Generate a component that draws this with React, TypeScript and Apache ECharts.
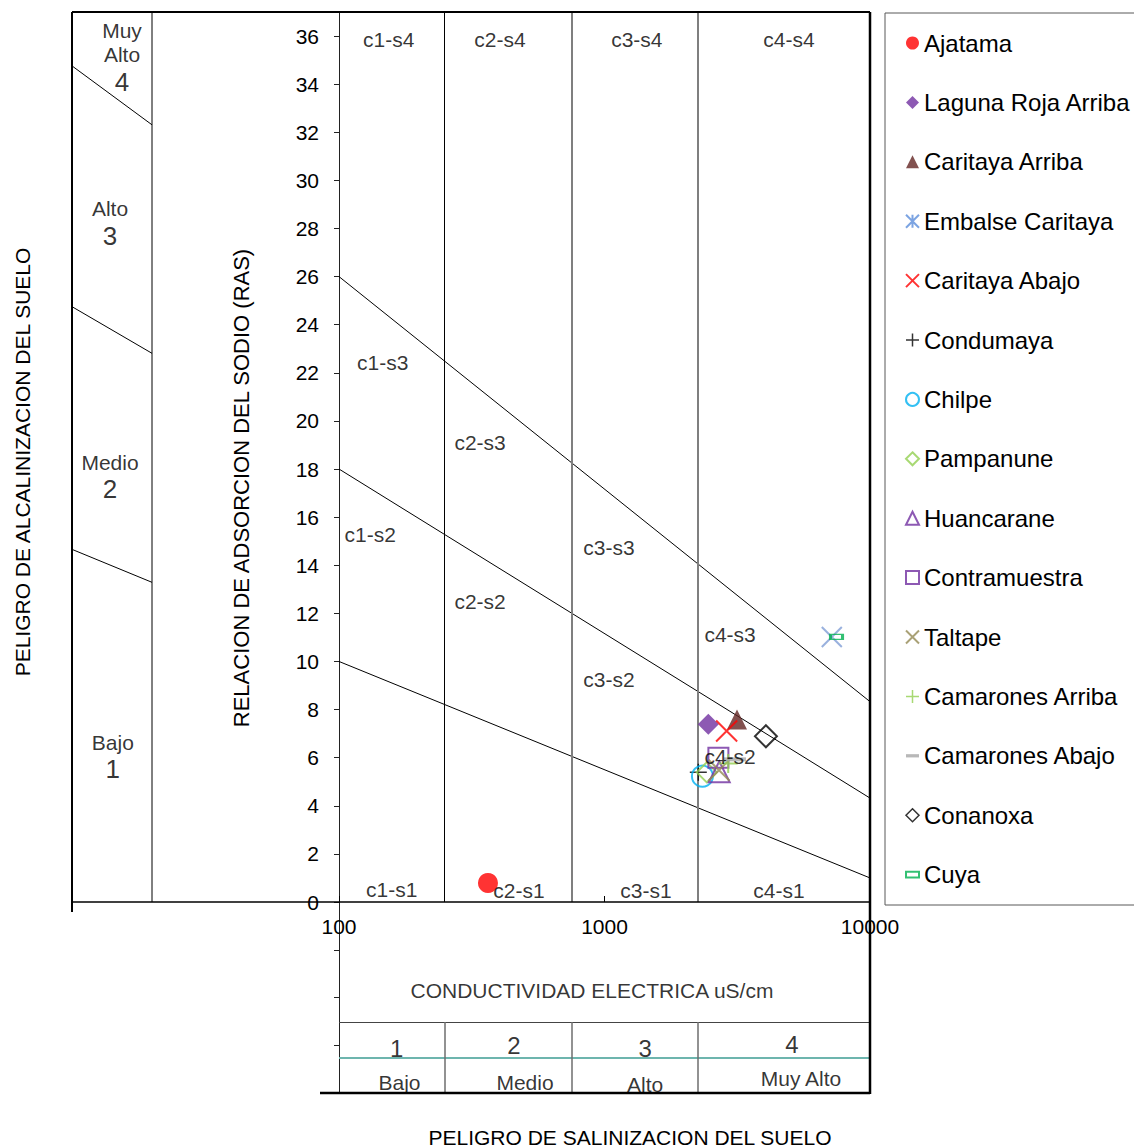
import React, { useEffect, useRef } from 'react';
import * as echarts from 'echarts';

const FONT = '"Liberation Sans", Arial, Helvetica, sans-serif';

// ---- data ----
const estaciones = [
  'Ajatama', 'Laguna Roja Arriba', 'Caritaya Arriba', 'Embalse Caritaya', 'Caritaya Abajo',
  'Condumaya', 'Chilpe', 'Pampanune', 'Huancarane', 'Contramuestra', 'Taltape',
  'Camarones Arriba', 'Camarones Abajo', 'Conanoxa', 'Cuya',
];
const conductividad = [364, 2460, 3155, 7180, 2884, 2256, 2338, 2427, 2705, 2685, 2700, 2924, 3101, 4055, 7480];
const ras = [0.79, 7.39, 7.59, 11.02, 7.11, 5.39, 5.23, 5.39, 5.41, 6.0, 5.48, 5.76, 5.93, 6.89, 11.02];

const limitesCE = [250, 750, 2250];
const limiteS1S2 = [[100, 10], [10000, 1]];
const limiteS2S3 = [[100, 18], [10000, 4.32]];
const limiteS3S4 = [[100, 26], [10000, 8.33]];

const zonaNombres = ['c1-s1', 'c2-s1', 'c3-s1', 'c4-s1', 'c1-s2', 'c2-s2', 'c3-s2', 'c4-s2',
  'c1-s3', 'c2-s3', 'c3-s3', 'c4-s3', 'c1-s4', 'c2-s4', 'c3-s4', 'c4-s4'];
const zonaCE = [158, 476, 1432, 4540, 131, 340, 1040, 2972, 146, 340, 1040, 2972, 154, 404, 1324, 4955];
const zonaRAS = [0.54, 0.46, 0.46, 0.46, 15.28, 12.5, 9.26, 6.06, 22.43, 19.1, 14.74, 11.13, 35.84, 35.84, 35.84, 35.84];

const alcalNiveles = ['Muy\nAlto', 'Alto', 'Medio', 'Bajo'];
const alcalNumeros = ['4', '3', '2', '1'];
const alcalPosX = [0.625, 0.475, 0.475, 0.51];
const alcalPosRAS = [35.1, 28.2, 17.65, 6.02];
const alcalLimites = [[[0, 34.76], [1, 32.31]], [[0, 24.75], [1, 22.81]], [[0, 14.66], [1, 13.29]]];

const salTextos = ['CONDUCTIVIDAD ELECTRICA uS/cm', '1', '2', '3', '4', 'Bajo', 'Medio', 'Alto', 'Muy Alto'];
const salCE = [897, 165, 456, 1422, 5080, 169, 502, 1422, 5496];
const salFila = [1.843, 3.058, 2.995, 3.058, 2.974, 3.79, 3.77, 3.83, 3.686];
const salFilaSeparador = 2.513;
const salFilaTeal = 3.267;

const yTicks = { min: 0, max: 37, interval: 2 };

// ---- marker styles ----
const P_X = 'path://M0,0L10,10M10,0L0,10';
const P_PLUS = 'path://M5,0L5,10M0,5L10,5';
const P_AST = 'path://M0,0L10,10M10,0L0,10M5,0L5,10';
const P_DASH = 'path://M0,4L10,4L10,6.5L0,6.5Z';
const P_SMALLRECT = 'path://M0,0L10,0L10,4.5L0,4.5Z';

const T = 'rgba(0,0,0,0)';
const estilos: any[] = [
  { symbol: 'circle', size: 20, item: { color: '#FF0000' }, icon: 'circle', leg: { color: '#FF0000' } },
  { symbol: 'diamond', size: 21, item: { color: '#7030A0' }, icon: 'diamond', leg: { color: '#7030A0' } },
  { symbol: 'triangle', size: 20, item: { color: '#632523' }, icon: 'triangle', leg: { color: '#632523' } },
  { symbol: P_X, size: 20, item: { color: T, borderColor: '#7F9ED6', borderWidth: 2 }, icon: P_AST, leg: { color: T, borderColor: '#5B8DDB', borderWidth: 2 } },
  { symbol: P_X, size: 21, item: { color: T, borderColor: '#FF0000', borderWidth: 2 }, icon: P_X, leg: { color: T, borderColor: '#FF0000', borderWidth: 2 } },
  { symbol: P_PLUS, size: 17, item: { color: T, borderColor: '#000000', borderWidth: 1.5 }, icon: P_PLUS, leg: { color: T, borderColor: '#000000', borderWidth: 1.5 } },
  { symbol: 'circle', size: 21, item: { color: T, borderColor: '#00B0F0', borderWidth: 2 }, icon: 'circle', leg: { color: T, borderColor: '#00B0F0', borderWidth: 2 } },
  { symbol: 'diamond', size: 20, item: { color: T, borderColor: '#92D050', borderWidth: 2 }, icon: 'diamond', leg: { color: T, borderColor: '#92D050', borderWidth: 2 } },
  { symbol: 'triangle', size: 21, item: { color: T, borderColor: '#7030A0', borderWidth: 2 }, icon: 'triangle', leg: { color: T, borderColor: '#7030A0', borderWidth: 2 } },
  { symbol: 'rect', size: 20, item: { color: T, borderColor: '#7030A0', borderWidth: 2 }, icon: 'rect', leg: { color: T, borderColor: '#7030A0', borderWidth: 2 } },
  { symbol: P_X, size: 21, item: { color: T, borderColor: '#948A54', borderWidth: 2 }, icon: P_X, leg: { color: T, borderColor: '#948A54', borderWidth: 2 } },
  { symbol: P_PLUS, size: 19, item: { color: T, borderColor: '#92D050', borderWidth: 2 }, icon: P_PLUS, leg: { color: T, borderColor: '#92D050', borderWidth: 1.5 } },
  { symbol: 'rect', size: [22, 4], item: { color: '#A6A6A6' }, icon: P_DASH, leg: { color: '#A6A6A6' } },
  { symbol: 'diamond', size: 22, item: { color: T, borderColor: '#000000', borderWidth: 2 }, icon: 'diamond', leg: { color: T, borderColor: '#000000', borderWidth: 1.5 } },
  { symbol: 'rect', size: [12, 5], item: { color: T, borderColor: '#00B050', borderWidth: 2 }, icon: P_SMALLRECT, leg: { color: T, borderColor: '#00B050', borderWidth: 2 } },
];

function buildOption(): any {
  const stationSeries = estaciones.map((name, i) => ({
    type: 'scatter',
    name,
    xAxisIndex: 0,
    yAxisIndex: 0,
    data: [[conductividad[i], ras[i]]],
    symbol: estilos[i].symbol,
    symbolSize: estilos[i].size,
    itemStyle: estilos[i].item,
    z: 5,
    silent: true,
  }));

  const limiteLine = (data: number[][], name: string, extra: any = {}) => ({
    type: 'line',
    name,
    xAxisIndex: 0,
    yAxisIndex: 0,
    data,
    symbol: 'none',
    silent: true,
    lineStyle: { color: '#000', width: 1 },
    z: 2,
    ...extra,
  });

  const line = (x1: number, y1: number, x2: number, y2: number, w: number, c = '#000') => ({
    type: 'line', shape: { x1, y1, x2, y2 }, style: { stroke: c, lineWidth: w }, silent: true, z: 10,
  });

  return {
    animation: false,
    backgroundColor: '#fff',
    textStyle: { fontFamily: FONT },
    grid: [
      { left: 339, top: 12, width: 531, height: 890, containLabel: false },
      { left: 72, top: 12, width: 80, height: 890, containLabel: false },
      { left: 339, top: 902, width: 531, height: 191, containLabel: false },
    ],
    xAxis: [
      {
        type: 'log', logBase: 10, min: 100, max: 10000, gridIndex: 0,
        axisLine: { show: false },
        axisTick: { show: true, inside: true, length: 6, lineStyle: { color: '#000' } },
        axisLabel: {
          fontSize: 21, fontFamily: FONT, color: '#000', margin: 14,
          formatter: (v: number) => String(Math.round(v)),
        },
        splitLine: { show: false },
        minorTick: { show: false },
      },
      { type: 'value', min: 0, max: 1, gridIndex: 1, show: false },
      { type: 'log', logBase: 10, min: 100, max: 10000, gridIndex: 2, show: false },
    ],
    yAxis: [
      {
        type: 'value', gridIndex: 0, min: yTicks.min, max: yTicks.max, interval: yTicks.interval,
        axisLine: { show: true, lineStyle: { color: '#222', width: 1 } },
        axisTick: { show: true, inside: false, length: 5, lineStyle: { color: '#222' } },
        axisLabel: {
          fontSize: 21, fontFamily: FONT, color: '#000', margin: 20,
          formatter: (v: number) => (Math.round(v) % 2 === 0 ? String(Math.round(v)) : ''),
        },
        splitLine: { show: false },
      },
      { type: 'value', gridIndex: 1, min: yTicks.min, max: yTicks.max, show: false },
      {
        type: 'value', gridIndex: 2, min: 0, max: 4, interval: 1, inverse: true,
        axisLine: { show: true, lineStyle: { color: '#222', width: 1 } },
        axisTick: { show: true, inside: false, length: 5, lineStyle: { color: '#222' } },
        axisLabel: { show: false },
        splitLine: { show: false },
      },
    ],
    legend: {
      orient: 'vertical',
      left: 905,
      top: 31,
      padding: 0,
      itemGap: 35.4,
      itemWidth: 13,
      itemHeight: 13,
      selectedMode: false,
      textStyle: { fontSize: 24, fontFamily: FONT, color: '#000' },
      data: estaciones.map((name, i) => ({ name, icon: estilos[i].icon, itemStyle: estilos[i].leg })),
    },
    series: [
      limiteLine(limiteS1S2, 'S1-S2', {
        markLine: {
          silent: true,
          symbol: 'none',
          label: { show: false },
          data: limitesCE.map((v, i) => ({
            xAxis: v,
            lineStyle: { color: i === 0 ? '#000' : '#7f7f7f', width: i === 0 ? 1 : 2, type: 'solid' },
          })),
        },
      }),
      limiteLine(limiteS2S3, 'S2-S3'),
      limiteLine(limiteS3S4, 'S3-S4'),
      ...stationSeries,
      {
        type: 'scatter',
        name: 'zonas',
        xAxisIndex: 0,
        yAxisIndex: 0,
        symbolSize: 0,
        silent: true,
        z: 6,
        data: zonaNombres.map((n, i) => ({ name: n, value: [zonaCE[i], zonaRAS[i]] })),
        label: {
          show: true, position: 'inside', formatter: (p: any) => p.name,
          fontSize: 21, fontFamily: FONT, color: '#000',
        },
      },
      // left panel: alkalinization hazard
      ...alcalLimites.map((d, i) => ({
        type: 'line', name: 'alc' + i, xAxisIndex: 1, yAxisIndex: 1, data: d, symbol: 'none', silent: true,
        lineStyle: { color: '#000', width: 1 },
      })),
      {
        type: 'scatter', name: 'alcal', xAxisIndex: 1, yAxisIndex: 1, symbolSize: 0, silent: true,
        data: alcalNiveles.map((n, i) => ({ name: n, value: [alcalPosX[i], alcalPosRAS[i]] })),
        label: {
          show: true, position: 'inside', align: 'center',
          formatter: (p: any) => p.name + '\n{n|' + alcalNumeros[p.dataIndex] + '}',
          fontSize: 21, lineHeight: 24, fontFamily: FONT, color: '#000',
          rich: { n: { fontSize: 26, lineHeight: 30, fontFamily: FONT, color: '#000' } },
        },
      },
      // bottom panel: salinization hazard
      {
        type: 'scatter', name: 'sal', xAxisIndex: 2, yAxisIndex: 2, symbolSize: 0, silent: true,
        data: salTextos.map((t, i) => ({
          name: t, value: [salCE[i], salFila[i]],
          label: { fontSize: /^[0-9]$/.test(t) ? 24 : 21 },
        })),
        label: { show: true, position: 'inside', formatter: (p: any) => p.name, fontFamily: FONT, color: '#000', fontSize: 21 },
        markLine: {
          silent: true, symbol: 'none', label: { show: false },
          data: [
            { yAxis: salFilaSeparador, lineStyle: { color: '#444', width: 1, type: 'solid' } },
            { yAxis: salFilaTeal, lineStyle: { color: '#6db5ae', width: 2, type: 'solid' } },
            ...limitesCE.map((v) => [
              { coord: [v, salFilaSeparador], lineStyle: { color: '#6e6e6e', width: 1.5, type: 'solid' } },
              { coord: [v, 4] },
            ]),
          ],
        },
      },
    ],
    graphic: [
      line(72, 12, 870, 12, 2),
      line(72, 12, 72, 912, 2),
      line(870, 12, 870, 1094, 2.5),
      line(72, 902, 870, 902, 1.5),
      line(152, 12, 152, 902, 1),
      line(320, 1093, 870, 1093, 2.5),
      {
        type: 'rect', shape: { x: 885, y: 13, width: 270, height: 892 },
        style: { fill: 'none', stroke: '#595959', lineWidth: 1 }, silent: true, z: 0,
      },
      {
        type: 'text', x: 241, y: 488, rotation: Math.PI / 2, silent: true,
        style: { text: 'RELACION DE ADSORCION DEL SODIO (RAS)', font: '22px ' + FONT, fill: '#000', align: 'center', verticalAlign: 'middle' },
      },
      {
        type: 'text', x: 22, y: 462, rotation: Math.PI / 2, silent: true,
        style: { text: 'PELIGRO DE ALCALINIZACION DEL SUELO', font: '21px ' + FONT, fill: '#000', align: 'center', verticalAlign: 'middle' },
      },
      {
        type: 'text', x: 630, y: 1137, silent: true,
        style: { text: 'PELIGRO DE SALINIZACION DEL SUELO', font: '21px ' + FONT, fill: '#000', align: 'center', verticalAlign: 'middle' },
      },
    ],
  };
}

export default function App() {
  const ref = useRef<HTMLDivElement>(null);
  useEffect(() => {
    const chart = echarts.init(ref.current as HTMLDivElement, null, { renderer: 'svg' });
    chart.setOption(buildOption());
    return () => chart.dispose();
  }, []);
  return <div ref={ref} style={{ position: 'absolute', left: 0, top: 0, width: 1134, height: 1147 }} />;
}
